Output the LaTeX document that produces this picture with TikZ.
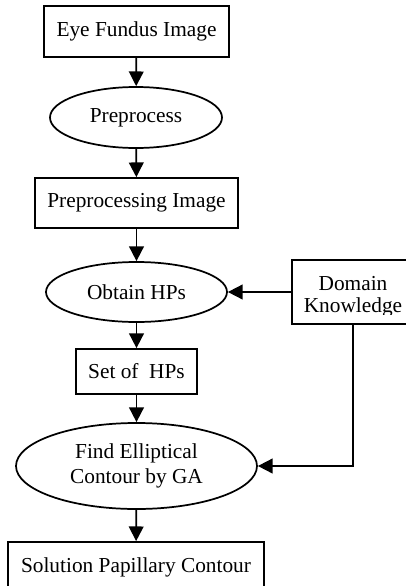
\documentclass[tikz,border=0pt]{standalone}
\usepackage{fontspec}
\setmainfont{Liberation Serif}
\usetikzlibrary{shapes.geometric,arrows.meta}
\begin{document}
\begin{tikzpicture}[x=0.75pt,y=-0.75pt,
  font=\fontsize{16}{18.2}\selectfont,
  every node/.style={inner sep=0pt},
  boxnode/.style={draw, line width=1.3pt, rectangle},
  ellnode/.style={draw, line width=1.3pt, ellipse, align=center},
  flow/.style={line width=1.3pt, -{Triangle[length=11pt,width=11pt]}}
]
\useasboundingbox (0,0) rectangle (406,586);
\clip (0,0) rectangle (406,586);
\fill[white] (0,0) rectangle (406,586);

\node[boxnode, minimum width=138.75pt, minimum height=38.25pt] (eye) at (136.5,31.5) {Eye Fundus Image};
\node[ellnode, minimum width=129pt, minimum height=45.75pt] (pre) at (136,117.5) {Preprocess};
\node[boxnode, minimum width=152.25pt, minimum height=37.5pt] (ppi) at (136.5,203) {Preprocessing Image};
\node[ellnode, minimum width=135.75pt, minimum height=45pt] (obt) at (136.5,292) {Obtain HPs};
\node[boxnode, minimum width=91.5pt, minimum height=48pt] (dk) at (353,292) {};
\begin{scope}
  \clip (294,262) rectangle (412,314);
  \node[align=center, font=\fontsize{16}{16.7}\selectfont] (dktext) at (353,297) {Domain\\Knowledge};
\end{scope}
\node[boxnode, minimum width=90.75pt, minimum height=33.75pt] (set) at (136.5,371.5) {Set of\ \ HPs};
\node[ellnode, minimum width=180.75pt, minimum height=64.5pt] (find) at (136.5,466) {Find Elliptical\\Contour by GA};
\node[boxnode, minimum width=192pt, minimum height=37.5pt] (sol) at (136,567) {Solution Papillary Contour};

\draw[flow] (eye) -- (pre);
\draw[flow] (pre) -- (ppi);
\draw[flow] (ppi) -- (obt);
\draw[flow] (obt) -- (set);
\draw[flow] (set) -- (find);
\draw[flow] (find) -- (sol);
\draw[flow] (dk.west) -- (obt.east);
\draw[flow] (dk.south) |- (find.east);
\end{tikzpicture}
\end{document}
